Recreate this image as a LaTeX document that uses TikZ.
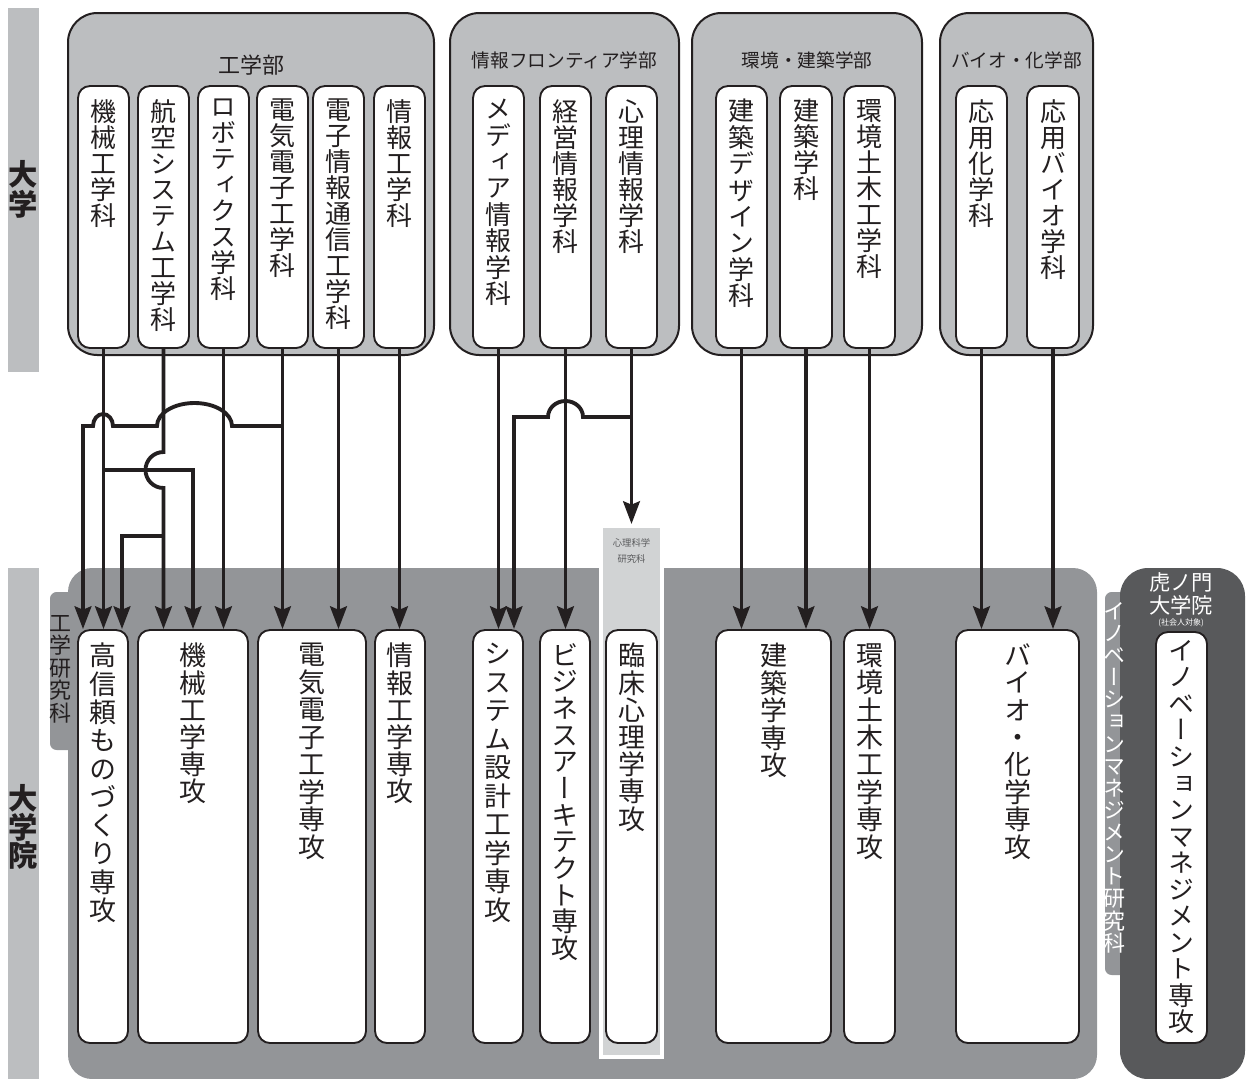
\documentclass[tikz,border=0pt]{standalone}
\usepackage{fontspec}
\usetikzlibrary{arrows.meta,fit,calc}
\newfontfamily\jp{Noto Sans CJK JP}
\newfontfamily\jpv[RawFeature=+vert]{Noto Sans CJK JP}
\definecolor{ink}{HTML}{231F20}
\definecolor{lgray}{HTML}{BCBEC0}
\definecolor{mgray}{HTML}{939598}
\definecolor{dgray}{HTML}{58595B}
\definecolor{pgray}{HTML}{D1D3D4}
\makeatletter
\newdimen\vtp
\newcommand\vt[2]{\vtp=#1\relax\vbox{\baselineskip=\vtp\lineskiplimit=-\maxdimen\lineskip=0pt\vt@#2\@nil}}
\def\vt@#1{\ifx#1\@nil\else\hbox to\vtp{\hss#1\hss}\expandafter\vt@\fi}
\makeatother
\begin{document}
\begin{tikzpicture}[x=0.75pt,y=-0.75pt,
  fac/.style={draw=ink,fill=lgray,line width=1.5pt,rounded corners=22pt,inner sep=0pt},
  ibox/.style={draw=ink,fill=white,line width=1.4pt,rounded corners=9pt,inner sep=0pt},
  vtop/.style={anchor=north,inner sep=0pt,text=ink,font=\jpv\fontsize{19.5pt}{19.5pt}\selectfont},
  vbot/.style={anchor=north,inner sep=0pt,text=ink,font=\jpv\fontsize{20.25pt}{20.25pt}\selectfont},
  ttl/.style={inner sep=0pt,text=ink,font=\jp\fontsize{14pt}{14pt}\selectfont},
  big/.style={inner sep=0pt,text=ink,font=\jpv\bfseries\fontsize{22pt}{22pt}\selectfont},
  arr/.style={draw=ink,line width=2.9pt,-{Stealth[length=17pt,width=12.5pt,inset=2.5pt]}},
]
\useasboundingbox (0,0) rectangle (1247,1079);

% side bars
\node[fit={(8,8) (39,372)},fill=lgray,inner sep=0pt] (barU) {};
\node[fit={(8,568) (39,1079)},fill=lgray,inner sep=0pt] (barG) {};
\node[big] (lblU) at (23.5,189) {\vt{22.5pt}{大学}};
\node[big] (lblG) at (23.5,827) {\vt{21.5pt}{大学院}};

% faculties
\node[fac,fit={(68,13) (434,355)}] (fE) {};
\node[fac,fit={(450,13) (679,355)}] (fI) {};
\node[fac,fit={(692,13) (922,355)}] (fA) {};
\node[fac,fit={(940,13) (1093,355)}] (fB) {};
\node[ttl,font=\jp\fontsize{16.5pt}{16.5pt}\selectfont] (tE) at (251,65) {工学部};
\node[ttl] (tI) at (564.5,60) {情報フロンティア学部};
\node[ttl] (tA) at (807,60) {環境・建築学部};
\node[ttl] (tB) at (1016.5,60) {バイオ・化学部};

% departments
\node[ibox,fit={(78,86) (129,348)}] (d1) {};
\node[ibox,fit={(138,86) (189,348)}] (d2) {};
\node[ibox,fit={(198,86) (249,348)}] (d3) {};
\node[ibox,fit={(257,86) (308,348)}] (d4) {};
\node[ibox,fit={(313,86) (364,348)}] (d5) {};
\node[ibox,fit={(374,86) (425,348)}] (d6) {};
\node[ibox,fit={(473,86) (524,348)}] (m1) {};
\node[ibox,fit={(540,86) (591,348)}] (m2) {};
\node[ibox,fit={(606,86) (657,348)}] (m3) {};
\node[ibox,fit={(716,86) (767,348)}] (e1) {};
\node[ibox,fit={(780,86) (832,348)}] (e2) {};
\node[ibox,fit={(844,86) (895,348)}] (e3) {};
\node[ibox,fit={(956,86) (1007,348)}] (c1) {};
\node[ibox,fit={(1027,86) (1079,348)}] (c2) {};
\node[vtop] (d1t) at (d1.center |- 0,99) {\vt{19.5pt}{機械工学科}};
\node[vtop] (d2t) at (d2.center |- 0,99) {\vt{19.5pt}{航空システム工学科}};
\node[vtop] (d3t) at (d3.center |- 0,99) {\vt{19.5pt}{ロボティクス学科}};
\node[vtop] (d4t) at (d4.center |- 0,99) {\vt{19.5pt}{電気電子工学科}};
\node[vtop] (d5t) at (d5.center |- 0,99) {\vt{19.5pt}{電子情報通信工学科}};
\node[vtop] (d6t) at (d6.center |- 0,99) {\vt{19.5pt}{情報工学科}};
\node[vtop] (m1t) at (m1.center |- 0,99) {\vt{19.8pt}{メディア情報学科}};
\node[vtop] (m2t) at (m2.center |- 0,99) {\vt{19.5pt}{経営情報学科}};
\node[vtop] (m3t) at (m3.center |- 0,99) {\vt{19.5pt}{心理情報学科}};
\node[vtop] (e1t) at (e1.center |- 0,99) {\vt{19.8pt}{建築デザイン学科}};
\node[vtop] (e2t) at (e2.center |- 0,99) {\vt{19.5pt}{建築学科}};
\node[vtop] (e3t) at (e3.center |- 0,99) {\vt{19.5pt}{環境土木工学科}};
\node[vtop] (c1t) at (c1.center |- 0,99) {\vt{19.5pt}{応用化学科}};
\node[vtop] (c2t) at (c2.center |- 0,99) {\vt{19.5pt}{応用バイオ学科}};

% graduate school areas
\node[fit={(50,592) (90,750)},fill=mgray,inner sep=0pt,rounded corners=5pt] (tabE) {};
\node[fit={(68,568) (1097,1079)},fill=mgray,inner sep=0pt,rounded corners=18pt] (grad) {};
\node[fit={(601,526) (662,1057)},fill=pgray,draw=white,line width=3pt,inner sep=0pt] (psy) {};
\node[fit={(1105,592) (1140,975)},fill=mgray,inner sep=0pt,rounded corners=5pt] (tabI) {};
\node[fit={(1120,568) (1245,1079)},fill=dgray,inner sep=0pt,rounded corners=21pt] (tora) {};

\node[anchor=north,inner sep=0pt,text=ink,font=\jpv\fontsize{16.5pt}{16.5pt}\selectfont] (tabEt) at (61,615) {\vt{16.9pt}{工学研究科}};
\node[anchor=north,inner sep=0pt,text=white,font=\jpv\fontsize{16.5pt}{16.5pt}\selectfont] (tabIt) at (1114,602) {\vt{16.6pt}{イノベーションマネジメント研究科}};
\node[inner sep=0pt,text=dgray,align=center,font=\jp\fontsize{7pt}{12pt}\selectfont] (psyt) at (631.5,551) {心理科学\\研究科};
\node[inner sep=0pt,text=white,font=\jp\fontsize{16pt}{16pt}\selectfont] (tora1) at (1181,582) {虎ノ門};
\node[inner sep=0pt,text=white,font=\jp\fontsize{16pt}{16pt}\selectfont] (tora2) at (1181,605) {大学院};
\node[inner sep=0pt,text=white,font=\jp\fontsize{6pt}{6pt}\selectfont] (torak) at (1181,623) {(社会人対象)};

% majors
\node[ibox,fit={(78,630) (128,1043)}] (b1) {};
\node[ibox,fit={(138,630) (248,1043)}] (b2) {};
\node[ibox,fit={(258,630) (366,1043)}] (b3) {};
\node[ibox,fit={(375,630) (425,1043)}] (b4) {};
\node[ibox,fit={(473,630) (523,1043)}] (b5) {};
\node[ibox,fit={(540,630) (590,1043)}] (b6) {};
\node[ibox,fit={(606,630) (657,1043)}] (b7) {};
\node[ibox,fit={(716,630) (831,1043)}] (b8) {};
\node[ibox,fit={(844,630) (895,1043)}] (b9) {};
\node[ibox,fit={(956,630) (1079,1043)}] (b10) {};
\node[ibox,fit={(1156,632) (1207,1043)}] (b11) {};
\node[vbot] (b1t) at (b1.center |- 0,643) {\vt{21.2pt}{高信頼ものづくり専攻}};
\node[vbot] (b2t) at (b2.center |- 0,643) {\vt{20.4pt}{機械工学専攻}};
\node[vbot] (b3t) at (b3.center |- 0,643) {\vt{20.6pt}{電気電子工学専攻}};
\node[vbot] (b4t) at (b4.center |- 0,643) {\vt{20.4pt}{情報工学専攻}};
\node[vbot] (b5t) at (b5.center |- 0,643) {\vt{21.4pt}{システム設計工学専攻}};
\node[vbot] (b6t) at (b6.center |- 0,643) {\vt{20pt}{ビジネスアーキテクト専攻}};
\node[vbot] (b7t) at (b7.center |- 0,643) {\vt{20.4pt}{臨床心理学専攻}};
\node[vbot] (b8t) at (b8.center |- 0,643) {\vt{20.6pt}{建築学専攻}};
\node[vbot] (b9t) at (b9.center |- 0,643) {\vt{20.6pt}{環境土木工学専攻}};
\node[vbot] (b10t) at (b10.center |- 0,643) {\vt{20.6pt}{バイオ・化学専攻}};
\node[vbot,font=\jpv\fontsize{19.5pt}{19.5pt}\selectfont] (b11t) at (b11.center |- 0,640) {\vt{19.9pt}{イノベーションマネジメント専攻}};

% junction points
\coordinate (jA) at (103.5,470);
\coordinate (jB) at (163.5,536);
\coordinate (jC) at (282.5,426);
\coordinate (jD) at (631.5,417);

% connectors: engineering
\draw[arr] (d1.south) -- (d1.south |- b1.north);
\draw[arr] (jA) -- (b2.north |- jA) -- (b2.north);
\draw[arr] (d2.south) -- (163.5,452) arc[start angle=-90,end angle=-270,radius=18] -- (d2.south |- b2.north);
\draw[arr] (jB) -- ($(b1.north |- jB)+(19,0)$) -- ($(b1.north)+(19,0)$);
\draw[arr] (d3.south) -- (d3.south |- b2.north);
\draw[arr] (d4.south) -- (d4.south |- b3.north);
\draw[arr] (jC) -- (232,426) arc[start angle=0,end angle=-180,x radius=37.5,y radius=23] -- (113,426) arc[start angle=0,end angle=-180,x radius=10,y radius=12] -- ($(b1.north |- jC)+(-20,0)$) -- ($(b1.north)+(-20,0)$);
\draw[arr] (d5.south) -- (d5.south |- b3.north);
\draw[arr] (d6.south) -- (d6.south |- b4.north);
% information frontier
\draw[arr] (m1.south) -- (m1.south |- b5.north);
\draw[arr] (m2.south) -- (m2.south |- b6.north);
\draw[arr] (m3.south) -- (m3.south |- psy.north);
\draw[arr] (jD) -- (583,417) arc[start angle=0,end angle=-180,x radius=17.5,y radius=16] -- ($(b5.north |- jD)+(16,0)$) -- ($(b5.north)+(16,0)$);
% architecture
\draw[arr] (e1.south) -- (e1.south |- b8.north);
\draw[arr] (e2.south) -- (e2.south |- b8.north);
\draw[arr] (e3.south) -- (e3.south |- b9.north);
% bio
\draw[arr] (c1.south) -- (c1.south |- b10.north);
\draw[arr] (c2.south) -- (c2.south |- b10.north);
\end{tikzpicture}
\end{document}
